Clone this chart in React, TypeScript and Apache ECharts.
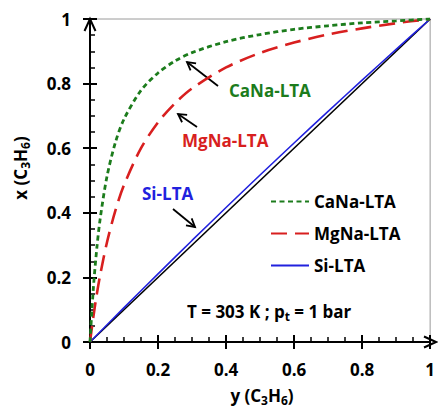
import React, { useEffect, useRef } from "react";
import * as echarts from "echarts";

// gas-phase mole fraction y(C3H6) (x axis) and adsorbed-phase x(C3H6) (y axis)
const gasFraction = [0, 0.01, 0.02, 0.03, 0.05, 0.075, 0.1, 0.15, 0.2, 0.25, 0.3, 0.4, 0.5, 0.6, 0.7, 0.8, 0.9, 1];
const caNaLTA = [0, 0.168, 0.29, 0.382, 0.513, 0.619, 0.69, 0.779, 0.833, 0.87, 0.896, 0.93, 0.952, 0.968, 0.979, 0.988, 0.994, 1];
const mgNaLTA = [0, 0.079, 0.148, 0.208, 0.309, 0.408, 0.486, 0.6, 0.68, 0.739, 0.785, 0.85, 0.895, 0.927, 0.952, 0.971, 0.987, 1];
const siGasFraction = [0, 0.1, 0.2, 0.3, 0.4, 0.5, 0.6, 0.7, 0.8, 0.9, 1];
const siLTA = [0, 0.1063, 0.211, 0.3144, 0.4163, 0.5169, 0.6161, 0.714, 0.8106, 0.9059, 1];
const diagonalX = [0, 1];
const diagonalY = [0, 1];
const seriesNames = ["CaNa-LTA", "MgNa-LTA", "Si-LTA"];
const conditionText = ["T = 303 K ; p", "t", " = 1 bar"];

const FONT = '"Open Sans", "Noto Sans", sans-serif';
const GREEN = "#1c7c1c";
const RED = "#d81f1f";
const BLUE = "#2121de";

const pairs = (xs: number[], ys: number[]) => xs.map((x, i) => [x, ys[i]]);

function arrow(x1: number, y1: number, x2: number, y2: number, len = 8, half = 4.5) {
  const dx = x2 - x1;
  const dy = y2 - y1;
  const L = Math.hypot(dx, dy);
  const ux = dx / L;
  const uy = dy / L;
  const bx = x2 - ux * len;
  const by = y2 - uy * len;
  const px = -uy;
  const py = ux;
  return [
    { type: "line", shape: { x1, y1, x2, y2 }, style: { stroke: "#000", lineWidth: 1.8 }, silent: true },
    {
      type: "polyline",
      shape: { points: [[bx + px * half, by + py * half], [x2, y2], [bx - px * half, by - py * half]] },
      style: { stroke: "#000", lineWidth: 1.8, fill: null },
      silent: true,
    },
  ];
}

const subRich = (color: string) => ({
  n: { fontSize: 17, lineHeight: 22, fontWeight: "bold", fontFamily: FONT, fill: color, color },
  s: { fontSize: 12, lineHeight: 14, verticalAlign: "bottom", fontWeight: "bold", fontFamily: FONT, fill: color, color },
});

export default function App() {
  const ref = useRef<HTMLDivElement>(null);
  useEffect(() => {
    if (!ref.current) return;
    const chart = echarts.init(ref.current, undefined, { renderer: "svg" });
    const tickStyle = { color: "#000", width: 2 };
    const xBase = {
      type: "value",
      min: 0,
      max: 1,
      interval: 0.2,
      splitLine: { show: false },
    };
    chart.setOption({
      animation: false,
      backgroundColor: "#fff",
      grid: { left: 90, top: 19, right: 3, bottom: 66, show: true, borderColor: "#9a9a9a", borderWidth: 1 },
      xAxis: [
        {
          ...xBase,
          position: "bottom",
          axisLine: { show: true, lineStyle: tickStyle },
          axisTick: { show: true, length: 7, lineStyle: tickStyle },
          axisLabel: { margin: 19, fontSize: 17, fontWeight: "bold", color: "#000", fontFamily: FONT },
        },
        {
          ...xBase,
          position: "bottom",
          axisLine: { show: false },
          axisTick: { show: true, inside: true, length: 7, lineStyle: tickStyle },
          minorTick: { show: true, splitNumber: 4, length: 5, lineStyle: { color: "#000", width: 1.5 } },
          axisLabel: { show: false },
        },
      ],
      yAxis: [
        {
          ...xBase,
          position: "left",
          axisLine: { show: true, lineStyle: tickStyle },
          axisTick: { show: true, length: 7, lineStyle: tickStyle },
          axisLabel: { margin: 19, fontSize: 17, fontWeight: "bold", color: "#000", fontFamily: FONT },
        },
        {
          ...xBase,
          position: "left",
          axisLine: { show: false },
          axisTick: { show: true, inside: true, length: 7, lineStyle: tickStyle },
          minorTick: { show: true, splitNumber: 4, length: 5, lineStyle: { color: "#000", width: 1.5 } },
          axisLabel: { show: false },
        },
      ],
      legend: {
        data: seriesNames,
        orient: "vertical",
        left: 270,
        top: 193,
        padding: 0,
        itemWidth: 38,
        itemHeight: 20,
        itemGap: 15,
        itemStyle: { opacity: 0 },
        textStyle: { fontSize: 17, fontWeight: "bold", fontFamily: FONT, color: "#000" },
      },
      series: [
        {
          type: "line",
          name: "diagonal",
          data: pairs(diagonalX, diagonalY),
          symbol: "none",
          silent: true,
          lineStyle: { color: "#000", width: 1.6 },
          z: 2,
        },
        {
          type: "line",
          name: seriesNames[2],
          data: pairs(siGasFraction, siLTA),
          symbol: "none",
          smooth: 0.3,
          itemStyle: { color: BLUE },
          lineStyle: { color: BLUE, width: 1.6 },
          z: 3,
        },
        {
          type: "line",
          name: seriesNames[1],
          data: pairs(gasFraction, mgNaLTA),
          symbol: "none",
          smooth: 0.3,
          itemStyle: { color: RED },
          lineStyle: { color: RED, width: 2.6, type: [16, 8] },
          z: 4,
        },
        {
          type: "line",
          name: seriesNames[0],
          data: pairs(gasFraction, caNaLTA),
          symbol: "none",
          smooth: 0.3,
          itemStyle: { color: GREEN },
          lineStyle: { color: GREEN, width: 2.8, type: [5, 3.5] },
          z: 5,
        },
      ],
      graphic: [
        // axis arrow heads
        { type: "polyline", shape: { points: [[84.5, 31], [90, 19], [95.5, 31]] }, style: { stroke: "#000", lineWidth: 2, fill: null }, silent: true, z: 100 },
        { type: "polyline", shape: { points: [[424, 336.5], [436, 342], [424, 347.5]] }, style: { stroke: "#000", lineWidth: 2, fill: null }, silent: true, z: 100 },
        // curve labels
        { type: "text", x: 229, y: 90, style: { text: seriesNames[0], fill: GREEN, fontSize: 17, fontWeight: "bold", fontFamily: FONT, align: "left", verticalAlign: "middle" }, z: 100 },
        { type: "text", x: 182, y: 140, style: { text: seriesNames[1], fill: RED, fontSize: 17, fontWeight: "bold", fontFamily: FONT, align: "left", verticalAlign: "middle" }, z: 100 },
        { type: "text", x: 142, y: 193, style: { text: seriesNames[2], fill: BLUE, fontSize: 17, fontWeight: "bold", fontFamily: FONT, align: "left", verticalAlign: "middle" }, z: 100 },
        ...arrow(218, 86, 187, 62),
        ...arrow(197, 127, 178, 114),
        ...arrow(173, 209, 195, 227),
        // conditions
        {
          type: "text",
          x: 187,
          y: 311,
          style: {
            text: `{n|${conditionText[0]}}{s|${conditionText[1]}}{n|${conditionText[2]}}`,
            rich: subRich("#000"),
            align: "left",
            verticalAlign: "middle",
          },
          z: 100,
        },
        // axis names
        {
          type: "text",
          x: 262,
          y: 395,
          style: {
            text: "{n|y (C}{s|3}{n|H}{s|6}{n|)}",
            rich: subRich("#000"),
            align: "center",
            verticalAlign: "middle",
          },
          z: 100,
        },
        {
          type: "text",
          x: 20,
          y: 168,
          rotation: Math.PI / 2,
          style: {
            text: "{n|x (C}{s|3}{n|H}{s|6}{n|)}",
            rich: subRich("#000"),
            align: "center",
            verticalAlign: "middle",
          },
          z: 100,
        },
      ],
    });
    return () => chart.dispose();
  }, []);
  return <div ref={ref} style={{ width: 438, height: 408, position: "absolute", left: 0, top: 0 }} />;
}
